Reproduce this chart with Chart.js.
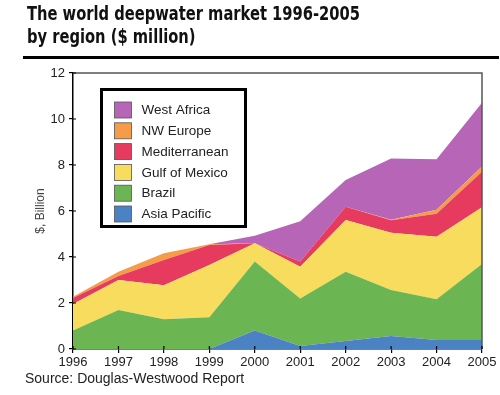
<!DOCTYPE html>
<html>
<head>
<meta charset="utf-8">
<script src="https://cdn.jsdelivr.net/npm/chart.js@4/dist/chart.umd.min.js"></script>
<style>
  html, body { margin: 0; padding: 0; background: #fff; }
  #wrap { width: 500px; height: 395px; position: relative; }
</style>
</head>
<body>
<div id="wrap"><canvas id="deepwater"></canvas></div>
<script>
// values, $ billion per region (stacked)
var years = ['1996', '1997', '1998', '1999', '2000', '2001', '2002', '2003', '2004', '2005'];
var asiaPacific  = [0, 0, 0, 0, 0.8, 0.13, 0.35, 0.57, 0.39, 0.39];
var brazil       = [0.8, 1.7, 1.29, 1.38, 3.0, 2.07, 3.01, 2.0, 1.77, 3.31];
var gulfOfMexico = [1.16, 1.3, 1.48, 2.27, 0.8, 1.38, 2.25, 2.48, 2.72, 2.46];
var mediterranean= [0.26, 0.17, 1.1, 0.87, 0, 0.22, 0.58, 0.55, 1.0, 1.55];
var nwEurope     = [0.05, 0.19, 0.29, 0.03, 0, 0, 0, 0.02, 0.17, 0.22];
var westAfrica   = [0, 0, 0, 0, 0.32, 1.75, 1.16, 2.66, 2.2, 2.78];
var yTicks = [0, 2, 4, 6, 8, 10, 12];

var titleLines = ['The world deepwater market 1996-2005', 'by region ($ million)'];
var sourceText = 'Source: Douglas-Westwood Report';

function area(label, data, color, fill){
    return {
        label: label,
        data: data,
        backgroundColor: color,
        borderColor: color,
        borderWidth: 0,
        pointRadius: 0,
        tension: 0,
        fill: fill
    };
}

// title, rule, frame, inner ticks, legend box, source line
var decor = {
    id: 'decor',
    afterDraw: function(chart){
        var ctx = chart.ctx, a = chart.chartArea;
        ctx.save();

        // title (squeezed to the width of the original condensed face)
        ctx.fillStyle = '#111';
        ctx.textBaseline = 'alphabetic';
        ctx.textAlign = 'left';
        ctx.font = 'bold 20px "Liberation Sans Narrow", "DejaVu Sans Condensed", sans-serif';
        var w1 = ctx.measureText(titleLines[0]).width;
        var sx = Math.min(1, 333 / w1);
        ctx.save();
        ctx.translate(27, 0);
        ctx.scale(sx, 1);
        ctx.fillText(titleLines[0], 0, 19.5);
        ctx.fillText(titleLines[1], 0, 43);
        ctx.restore();

        // thick rule
        ctx.fillStyle = '#000';
        ctx.fillRect(23, 56, 476, 3);

        // frame top + right
        ctx.strokeStyle = '#555';
        ctx.lineWidth = 1.5;
        ctx.beginPath();
        ctx.moveTo(a.left, a.top);
        ctx.lineTo(a.right, a.top);
        ctx.lineTo(a.right, a.bottom);
        ctx.stroke();

        // ticks poke into the plot a bit too
        ctx.strokeStyle = '#000';
        ctx.lineWidth = 1.2;
        var ys = chart.scales.y, xs = chart.scales.x;
        ctx.beginPath();
        yTicks.forEach(function(v){
            var py = ys.getPixelForValue(v);
            ctx.moveTo(a.left, py);
            ctx.lineTo(a.left + 3, py);
        });
        years.forEach(function(yr, i){
            var px = xs.getPixelForValue(i);
            ctx.moveTo(px, a.bottom);
            ctx.lineTo(px, a.bottom - 3);
        });
        ctx.stroke();

        // legend box
        ctx.fillStyle = '#fff';
        ctx.fillRect(101.5, 89.5, 144, 137);
        ctx.strokeStyle = '#000';
        ctx.lineWidth = 3;
        ctx.strokeRect(101.5, 89.5, 144, 137);
        ctx.font = '13.5px "Liberation Sans", Arial, sans-serif';
        ctx.textBaseline = 'middle';
        var sets = chart.data.datasets.slice().reverse();
        sets.forEach(function(ds, i){
            var cy = 110 + i * 20.8;
            ctx.fillStyle = ds.backgroundColor;
            ctx.fillRect(114.5, cy - 8, 17, 16);
            ctx.strokeStyle = '#555';
            ctx.lineWidth = 0.8;
            ctx.strokeRect(114.5, cy - 8, 17, 16);
            ctx.fillStyle = '#222';
            ctx.fillText(ds.label, 141.5, cy + 0.5);
        });

        // source
        ctx.fillStyle = '#222';
        ctx.font = '14px "Liberation Sans", Arial, sans-serif';
        ctx.textBaseline = 'alphabetic';
        ctx.fillText(sourceText, 25, 383);

        ctx.restore();
    }
};

var chartDeep = new Chart(document.getElementById('deepwater').getContext('2d'), {
    type: 'line',
    data: {
        labels: years,
        datasets: [
            area('Asia Pacific', asiaPacific, '#4a82c4', 'origin'),
            area('Brazil', brazil, '#6cb553', '-1'),
            area('Gulf of Mexico', gulfOfMexico, '#f8dc5e', '-1'),
            area('Mediterranean', mediterranean, '#e63b5f', '-1'),
            area('NW Europe', nwEurope, '#f59c48', '-1'),
            area('West Africa', westAfrica, '#b765b6', '-1')
        ]
    },
    options: {
        responsive: true,
        maintainAspectRatio: false,
        animation: false,
        layout: { padding: { top: 73, right: 18, left: 0, bottom: 0 } },
        plugins: {
            legend: { display: false },
            title: { display: false },
            tooltip: { enabled: false }
        },
        scales: {
            x: {
                offset: false,
                grid: { drawOnChartArea: false, drawTicks: true, tickLength: 4, color: '#000', lineWidth: 1.2 },
                border: { color: '#000', width: 1.5 },
                ticks: {
                    color: '#222',
                    padding: 2,
                    maxRotation: 0,
                    autoSkip: false,
                    font: { family: '"Liberation Sans", Arial, sans-serif', size: 13 }
                },
                afterFit: function(scale){ scale.height = 46; }
            },
            y: {
                stacked: true,
                min: 0,
                max: 12,
                grid: { drawOnChartArea: false, drawTicks: true, tickLength: 4, color: '#000', lineWidth: 1.2 },
                border: { color: '#000', width: 1.5 },
                ticks: {
                    stepSize: 2,
                    color: '#222',
                    padding: 4,
                    font: { family: '"Liberation Sans", Arial, sans-serif', size: 13 }
                },
                title: {
                    display: true,
                    text: '$, Billion',
                    color: '#444',
                    padding: { top: 33, bottom: 0 },
                    font: { family: '"Liberation Sans", Arial, sans-serif', size: 12 }
                },
                afterFit: function(scale){ scale.width = 73; }
            }
        }
    },
    plugins: [decor]
});
</script>
</body>
</html>
